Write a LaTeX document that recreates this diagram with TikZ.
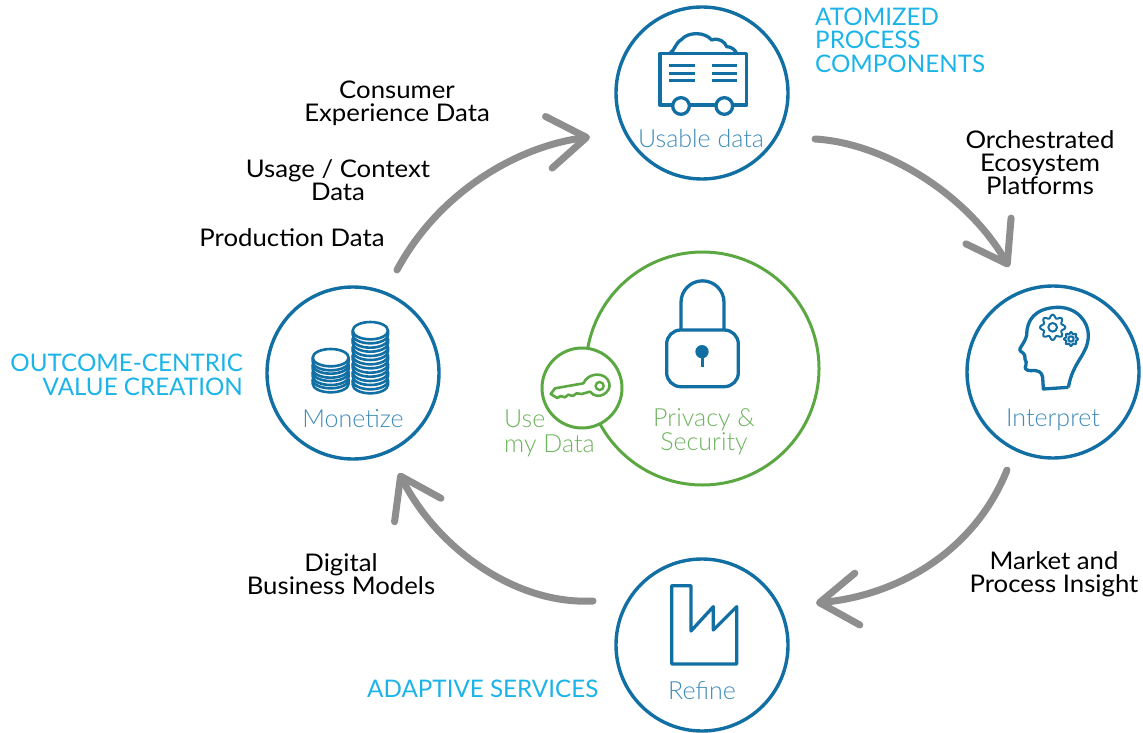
\documentclass[tikz,border=0pt]{standalone}
\usepackage{fontspec}
\setmainfont{Lato}
\newfontfamily\labelfont{Lato}[FakeStretch=1.06]
\newfontfamily\lightfont{Lato Light}
\usetikzlibrary{arrows.meta}
\definecolor{ringblue}{HTML}{126FA3}
\definecolor{capblue}{HTML}{3F8CB8}
\definecolor{cyanlab}{HTML}{1CB4E8}
\definecolor{ringgreen}{HTML}{5BA843}
\definecolor{capgreen}{HTML}{6DB45E}
\definecolor{flowgray}{HTML}{8E8E8E}
\tikzset{
  x=1pt,y=-1pt,
  stage/.style={circle,draw=ringblue,line width=3.4pt,minimum size=172pt,inner sep=0pt},
  greenring/.style={circle,draw=ringgreen,line width=3pt,inner sep=0pt},
  flow/.style={draw=flowgray,line width=7pt,line cap=round,-{Straight Barb[length=38pt,width=52pt,line width=7pt,round]}},
  black label/.style={align=center,text=black,font=\labelfont\fontsize{24.3}{23}\selectfont,inner sep=0pt},
  cyan label/.style={text=cyanlab,font=\fontsize{24.2}{23.5}\selectfont,inner sep=0pt},
  caption blue/.style={text=capblue,align=center,font=\lightfont\fontsize{25}{24}\selectfont,inner sep=0pt},
  caption green/.style={text=capgreen,font=\lightfont\fontsize{25}{24.5}\selectfont,inner sep=0pt},
  icon/.style={draw=ringblue,line width=3.3pt,line join=round},
  thin icon/.style={draw=ringblue,line width=2pt,line join=round},
}
\newcommand{\gearicon}[5]{% x y R teeth-amplitude hole
  \draw[thin icon,smooth] plot[domain=0:360,samples=81]
    ({#1+(#3+#4*cos(8*\x))*cos(\x)},{#2+(#3+#4*cos(8*\x))*sin(\x)});
  \draw[thin icon] (#1,#2) circle[radius=#5];
}
\newcommand{\coinicon}[3]{% cx, y of top ellipse centre, half width
  \filldraw[draw=ringblue,line width=2.6pt,fill=white] (#1-#3,#2) -- (#1-#3,#2+12) arc[start angle=180,end angle=0,x radius=#3,y radius=26] -- (#1+#3,#2) arc[start angle=0,end angle=-180,x radius=#3,y radius=26] -- cycle;
  \draw[draw=ringblue,line width=2.6pt] (#1-#3,#2) arc[start angle=180,end angle=0,x radius=#3,y radius=26];
}
\begin{document}
\begin{tikzpicture}
\useasboundingbox (0,0) rectangle (1143,733);
% stages
\node[stage] (usable) at (702,93) {};
\node[stage] (interpret) at (1053,372) {};
\node[stage] (refine) at (702,645) {};
\node[stage] (monetize) at (353,373) {};
% green rings
\node[greenring,minimum size=233pt] (privacy) at (702.5,368.5) {};
\node[greenring,minimum size=80pt,fill=white] (usedata) at (582,388) {};
% flows
\coordinate (a1s) at (397,270); \coordinate (a1e) at (590,137);
\coordinate (a2s) at (815,139); \coordinate (a2e) at (1009,267);
\coordinate (a3s) at (1007,470); \coordinate (a3e) at (816,603);
\coordinate (a4s) at (593,601); \coordinate (a4e) at (399,473);
\draw[flow] (a1s) .. controls (440,190) and (520,146) .. (a1e);
\draw[flow] (a2s) .. controls (885,143) and (968,195) .. (a2e);
\draw[flow] (a3s) .. controls (975,550) and (900,595) .. (a3e);
\draw[flow] (a4s) .. controls (515,605) and (437,548) .. (a4e);
% cart
\begin{scope}[shift={(600,0)},scale=1/3]
\filldraw[icon,fill=white] (180,160) rectangle (440,315);
\draw[icon] (210,160) .. controls (225,150) and (225,130) .. (245,118) .. controls (265,95) and (315,95) .. (335,120) .. controls (355,112) and (375,125) .. (380,140) .. controls (395,140) and (405,150) .. (410,160);
\foreach \yy in {197,220,242} {
  \draw[icon] (207,\yy) -- (285,\yy);
  \draw[icon] (335,\yy) -- (412,\yy);
}
\filldraw[icon,fill=white] (243,318) circle[radius=25];
\filldraw[icon,fill=white] (373,318) circle[radius=25];
\end{scope}
% head
\begin{scope}[shift={(960,280)},scale=1/3]
\draw[icon] (325,322) -- (250,327) -- (248,292) .. controls (245,275) and (235,270) .. (212,272) .. controls (198,272) and (192,265) .. (198,255) .. controls (202,248) and (196,242) .. (195,238) .. controls (198,230) and (195,222) .. (180,212) .. controls (175,205) and (195,190) .. (200,165) .. controls (200,120) and (225,85) .. (290,82) .. controls (350,80) and (385,125) .. (385,165) .. controls (385,225) and (340,240) .. (325,322);
\gearicon{278}{142}{33}{5}{13}
\gearicon{333}{177}{18}{3}{8}
\end{scope}
% coins
\begin{scope}[shift={(260,290)},scale=1/3]
\foreach \yy in {269,247,225,203} {\coinicon{212}{\yy}{54}}
\foreach \yy in {272,247,222,197,172,147,122} {\coinicon{331}{\yy}{53}}
\end{scope}
% lock
\begin{scope}[shift={(500,250)},scale=1/3]
\draw[icon] (543,240) -- (543,157) arc[start angle=180,end angle=360,radius=64.5] -- (672,240);
\draw[icon,rounded corners=14pt] (500,240) rectangle (715,410);
\fill[ringblue] (606,305) circle[radius=20];
\draw[ringblue,line width=3pt] (606,305) -- (606,352);
\end{scope}
% key
\begin{scope}[shift={(500,250)},scale=1/3]
\draw[draw=ringgreen,line width=2.6pt,line join=round] (250,400) -- (165,415) -- (152,432) -- (172,444) -- (182,438) -- (195,442) -- (205,434) -- (218,438) -- (230,430) -- (245,432) -- (270,425) .. controls (295,455) and (335,425) .. (328,400) .. controls (320,365) and (265,365) .. (250,400) -- cycle;
\draw[draw=ringgreen,line width=2.4pt] (299,408) circle[radius=12];
\end{scope}
% factory
\begin{scope}[shift={(610,550)},scale=1/3]
\draw[icon] (185,107) -- (243,107) -- (243,243) -- (310,170) -- (310,240) -- (380,170) -- (380,342) -- (185,342) -- cycle;
\end{scope}
% captions
\node[caption blue] (t1) at (701,139) {Usable data};
\node[caption blue] (t2) at (1053,420) {Interpret};
\node[caption blue] (t3) at (353,419) {Monetize};
\node[caption blue] (t4) at (702,691) {Refine};
\node[caption green,align=left,anchor=west] (t5) at (504,433.5) {Use\\my Data};
\node[caption green,align=center] (t6) at (704,432) {Privacy \&\\Security};
% black labels
\node[black label] (l1) at (397,103.5) {Consumer\\Experience Data};
\node[black label] (l2) at (338,180.5) {Usage / Context\\Data};
\node[black label] (l3) at (292,238) {Production Data};
\node[black label] (l4) at (1040,163) {Orchestrated\\Ecosystem\\Platforms};
\node[black label] (l5) at (1054,574) {Market and\\Process Insight};
\node[black label] (l6) at (341,574) {Digital\\Business Models};
% cyan labels
\node[cyan label,align=left,anchor=west] (c1) at (815,40) {ATOMIZED\\PROCESS\\COMPONENTS};
\node[cyan label,align=right,anchor=east] (c2) at (243,375) {OUTCOME-CENTRIC\\VALUE CREATION};
\node[cyan label,anchor=west] (c3) at (367,689) {ADAPTIVE SERVICES};
\end{tikzpicture}
\end{document}
